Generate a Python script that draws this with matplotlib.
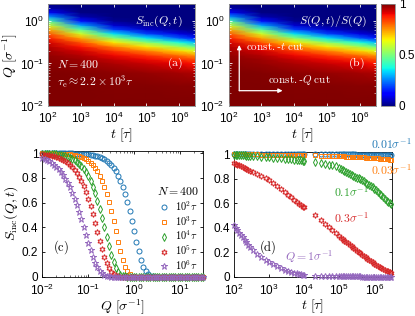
import numpy as np
import matplotlib
matplotlib.use('Agg')
import matplotlib.pyplot as plt
from matplotlib.ticker import LogLocator, NullFormatter
from matplotlib.font_manager import FontProperties

plt.rcParams['font.family'] = ['Liberation Sans', 'DejaVu Sans']
plt.rcParams['mathtext.fontset'] = 'custom'
plt.rcParams['mathtext.rm'] = 'Liberation Sans'
plt.rcParams['mathtext.it'] = 'Liberation Sans:italic'
plt.rcParams['mathtext.bf'] = 'Liberation Sans:bold'
plt.rcParams['xtick.direction'] = 'in'
plt.rcParams['ytick.direction'] = 'in'
plt.rcParams['xtick.top'] = True
plt.rcParams['ytick.right'] = True
plt.rcParams['axes.linewidth'] = 0.6
plt.rcParams['xtick.major.width'] = 0.6
plt.rcParams['ytick.major.width'] = 0.6
plt.rcParams['xtick.minor.width'] = 0.4
plt.rcParams['ytick.minor.width'] = 0.4
plt.rcParams['xtick.major.size'] = 2.5
plt.rcParams['ytick.major.size'] = 2.5
plt.rcParams['xtick.minor.size'] = 1.3
plt.rcParams['ytick.minor.size'] = 1.3
plt.rcParams['xtick.labelsize'] = 8.5
plt.rcParams['ytick.labelsize'] = 8.5
plt.rcParams['xtick.major.pad'] = 4.2
plt.rcParams['ytick.major.pad'] = 3.0

# ---------------- heat-map data (a), (b) ----------------
map_t = [1e2, 1e3, 1e4, 1e5, 1e6, 3e6]
map_q = [0.01, 0.03, 0.06, 0.1, 0.126, 0.158, 0.2, 0.25, 0.316, 0.4,
         0.5, 0.63, 0.79, 1.0, 1.26, 1.58, 2.0, 2.5]
map_sinc = [
    [1.0, 1.0, 1.0, 0.999, 0.999, 0.999],
    [0.999, 0.998, 0.996, 0.994, 0.991, 0.989],
    [0.997, 0.993, 0.985, 0.977, 0.966, 0.958],
    [0.992, 0.980, 0.959, 0.936, 0.907, 0.888],
    [0.987, 0.969, 0.936, 0.901, 0.856, 0.828],
    [0.980, 0.952, 0.901, 0.849, 0.784, 0.743],
    [0.968, 0.924, 0.847, 0.769, 0.677, 0.621],
    [0.951, 0.884, 0.771, 0.663, 0.543, 0.476],
    [0.922, 0.820, 0.660, 0.519, 0.377, 0.305],
    [0.878, 0.728, 0.514, 0.349, 0.210, 0.149],
    [0.817, 0.609, 0.353, 0.193, 0.087, 0.051],
    [0.724, 0.455, 0.191, 0.074, 0.021, 0.009],
    [0.603, 0.290, 0.074, 0.017, 0.002, 0.001],
    [0.444, 0.138, 0.016, 0.001, 0.0, 0.0],
    [0.276, 0.043, 0.001, 0.0, 0.0, 0.0],
    [0.132, 0.007, 0.0, 0.0, 0.0, 0.0],
    [0.039, 0.0, 0.0, 0.0, 0.0, 0.0],
    [0.006, 0.0, 0.0, 0.0, 0.0, 0.0],
]
map_ratio = map_sinc

# ---------------- panel (c): S_inc vs Q ----------------
q_c = [0.01, 0.0112, 0.0126, 0.0141, 0.0158, 0.0178, 0.02, 0.0224, 0.0251, 0.0282,
       0.0316, 0.0355, 0.0398, 0.0447, 0.0501, 0.0562, 0.0631, 0.0708, 0.0794, 0.0891,
       0.1, 0.112, 0.126, 0.141, 0.158, 0.178, 0.2, 0.224, 0.251, 0.282,
       0.316, 0.355, 0.398, 0.447, 0.501, 0.562, 0.631, 0.708, 0.794, 0.891,
       1.0, 1.12, 1.26, 1.41, 1.58, 1.78, 2.0, 2.24, 2.51, 2.82,
       3.16, 3.55, 3.98, 4.47, 5.01, 5.62, 6.31, 7.08, 7.94, 8.91,
       10.0, 11.2, 12.6, 14.1, 15.8, 17.8, 20.0, 22.4, 25.1, 28.2, 31.6]
s_c_1e2 = [1.0] * 9 + [0.999, 0.999, 0.999, 0.998, 0.998, 0.997, 0.997, 0.996, 0.995, 0.994,
                       0.992, 0.990, 0.988, 0.984, 0.980, 0.975, 0.969, 0.961, 0.951, 0.939,
                       0.924, 0.905, 0.882, 0.854, 0.819, 0.778, 0.729, 0.672, 0.606, 0.532,
                       0.452, 0.368, 0.284, 0.205, 0.136, 0.081, 0.042, 0.019, 0.007, 0.002] + [0.0] * 22
s_c_1e3 = [1.0] + [0.999, 0.999, 0.999, 0.998, 0.998, 0.997, 0.997, 0.996, 0.995, 0.994,
                   0.992, 0.990, 0.988, 0.984, 0.980, 0.975, 0.969, 0.961, 0.951, 0.939,
                   0.924, 0.905, 0.882, 0.854, 0.819, 0.778, 0.729, 0.672, 0.606, 0.532,
                   0.452, 0.368, 0.284, 0.205, 0.136, 0.081, 0.042, 0.019, 0.007, 0.002] + [0.0] * 30
s_c_1e4 = [0.997, 0.996, 0.996, 0.995, 0.993, 0.992, 0.990, 0.987, 0.984, 0.980,
           0.976, 0.970, 0.963, 0.954, 0.944, 0.931, 0.916, 0.897, 0.874, 0.846,
           0.813, 0.774, 0.729, 0.676, 0.616, 0.549, 0.476, 0.399, 0.321, 0.245,
           0.175, 0.116, 0.070, 0.037, 0.017, 0.006, 0.002, 0.001] + [0.0] * 33
s_c_1e5 = [0.991, 0.989, 0.986, 0.984, 0.980, 0.976, 0.971, 0.964, 0.957, 0.948,
           0.937, 0.924, 0.908, 0.889, 0.867, 0.840, 0.810, 0.773, 0.731, 0.684,
           0.630, 0.570, 0.505, 0.435, 0.364, 0.292, 0.224, 0.162, 0.109, 0.068,
           0.038, 0.019, 0.008, 0.003, 0.001] + [0.0] * 36
s_c_1e6 = [0.960, 0.953, 0.944, 0.934, 0.922, 0.908, 0.891, 0.872, 0.850, 0.824,
           0.795, 0.761, 0.723, 0.680, 0.633, 0.580, 0.524, 0.463, 0.401, 0.338,
           0.275, 0.215, 0.161, 0.114, 0.076, 0.047, 0.026, 0.013, 0.006, 0.002,
           0.001] + [0.0] * 40
c_labels = [r'$10^2\tau$', r'$10^3\tau$', r'$10^4\tau$', r'$10^5\tau$', r'$10^6\tau$']

# ---------------- panel (d): S_inc vs t ----------------
t_d = [100, 112, 125, 140, 158, 178, 200, 224, 251, 282,
       350, 450, 600, 800, 1000, 1300, 1700, 2200, 2800, 3500, 4300, 5200, 6200, 7200, 8200, 9100, 10000,
       20000, 30000, 40000, 50000, 63000, 79000,
       100000, 112000, 126000, 141000, 158000, 178000, 200000, 224000, 251000, 282000,
       316000, 355000, 398000, 447000, 501000, 562000, 631000, 708000, 794000, 891000,
       1000000, 1120000, 1260000, 1410000, 1580000, 1780000, 2000000, 2240000, 2510000, 2820000, 3000000]
s_d_q001 = [1.0] * 10 + [0.999] * 17 + [0.998] * 6 + [0.998] * 10 + [0.997] * 10 + [0.996] * 11
s_d_q003 = ([0.999] * 5 + [0.998] * 5 +
            [0.998, 0.998, 0.997, 0.997, 0.996, 0.996, 0.995, 0.995, 0.994, 0.994,
             0.993, 0.993, 0.993, 0.992, 0.992, 0.992, 0.992] +
            [0.990, 0.989, 0.988, 0.987, 0.986, 0.985] +
            [0.984, 0.983, 0.983, 0.982, 0.981, 0.981, 0.980, 0.979, 0.979, 0.978,
             0.977, 0.976, 0.976, 0.975, 0.974, 0.973, 0.972, 0.971, 0.970, 0.969,
             0.968, 0.967, 0.966, 0.965, 0.964, 0.963, 0.962, 0.960, 0.959, 0.957, 0.956])
s_d_q01 = ([0.995, 0.994, 0.993, 0.993, 0.992, 0.991, 0.990, 0.989, 0.988, 0.987] +
           [0.985, 0.983, 0.980, 0.977, 0.975, 0.972, 0.969, 0.966, 0.963, 0.960,
            0.958, 0.955, 0.953, 0.951, 0.949, 0.947, 0.946] +
           [0.935, 0.928, 0.922, 0.916, 0.910, 0.900] +
           [0.888, 0.881, 0.874, 0.866, 0.858, 0.850, 0.842, 0.834, 0.826, 0.818,
            0.810, 0.802, 0.794, 0.786, 0.778, 0.769, 0.760, 0.750, 0.740, 0.729,
            0.718, 0.705, 0.692, 0.678, 0.664, 0.650, 0.636, 0.622, 0.610, 0.598, 0.592])
s_d_q03 = ([0.926, 0.921, 0.915, 0.909, 0.902, 0.895, 0.888, 0.881, 0.874, 0.867] +
           [0.855, 0.840, 0.822, 0.804, 0.790, 0.767, 0.742, 0.716, 0.692, 0.668,
            0.648, 0.628, 0.610, 0.596, 0.583, 0.573, 0.565] +
           [0.500, 0.460, 0.430, 0.405, 0.380, 0.355] +
           [0.330, 0.318, 0.306, 0.294, 0.283, 0.271, 0.260, 0.248, 0.236, 0.224,
            0.212, 0.201, 0.190, 0.179, 0.168, 0.157, 0.146, 0.136, 0.126, 0.116,
            0.107, 0.098, 0.089, 0.080, 0.072, 0.064, 0.056, 0.049, 0.042, 0.036, 0.033])
s_d_q1 = ([0.42, 0.40, 0.38, 0.36, 0.34, 0.32, 0.30, 0.28, 0.26, 0.245] +
          [0.215, 0.185, 0.16, 0.135, 0.12, 0.10, 0.085, 0.07, 0.058, 0.048,
           0.04, 0.033, 0.027, 0.023, 0.019, 0.017, 0.015] +
          [0.008, 0.006, 0.005, 0.004, 0.004, 0.003] +
          [0.003] * 3 + [0.002] * 10 + [0.001] * 18)
d_labels = [r'$0.01\sigma^{-1}$', r'$0.03\sigma^{-1}$', r'$0.1\sigma^{-1}$',
            r'$0.3\sigma^{-1}$', r'$Q=1\sigma^{-1}$']

colors = ['#1f77b4', '#ff7f0e', '#2ca02c', '#d62728', '#9467bd']
hexagram = (6, 1, 0)
markers = ['o', 's', 'd', hexagram, '*']
msizes = [3.6, 3.2, 3.6, 4.2, 4.6]

CM = 'cm'

fig = plt.figure(figsize=(4.15, 3.16), dpi=100)
ax_a = fig.add_axes([0.1157, 0.6646, 0.354, 0.3228])
ax_b = fig.add_axes([0.551, 0.6646, 0.354, 0.3228])
cax = fig.add_axes([0.918, 0.6646, 0.033, 0.3228])
ax_c = fig.add_axes([0.1024, 0.1234, 0.3867, 0.4003])
ax_d = fig.add_axes([0.5639, 0.1234, 0.3807, 0.397])

T, Qm = np.meshgrid(np.array(map_t), np.array(map_q))
for ax, data in ((ax_a, map_sinc), (ax_b, map_ratio)):
    mesh = ax.pcolormesh(T, Qm, np.array(data), shading='gouraud', cmap='jet',
                         vmin=0, vmax=1, rasterized=True)
    ax.set_xscale('log')
    ax.set_yscale('log')
    ax.set_xlim(1e2, 3e6)
    ax.set_ylim(1e-2, 2.5)
    ax.set_xticks([1e2, 1e3, 1e4, 1e5, 1e6])
    ax.set_yticks([1e-2, 1e-1, 1e0])
    ax.xaxis.set_minor_locator(LogLocator(subs=np.arange(2, 10)))
    ax.xaxis.set_minor_formatter(NullFormatter())
    ax.yaxis.set_minor_locator(LogLocator(subs=np.arange(2, 10)))
    ax.yaxis.set_minor_formatter(NullFormatter())
    ax.tick_params(which='both', color='white')
    ax.tick_params(axis='x', pad=3.8)
    ax.set_xlabel(r'$t\ [\tau]$', fontsize=10, math_fontfamily=CM)
    ax.xaxis.set_label_coords(0.5, -0.2)
    for s in ax.spines.values():
        s.set_color('#888888')

ax_a.set_ylabel(r'$Q\ [\sigma^{-1}]$', fontsize=10, math_fontfamily=CM)
ax_a.yaxis.set_label_coords(-0.19, 0.5)

cb = fig.colorbar(mesh, cax=cax, ticks=[0, 0.5, 1])
cb.ax.set_yticklabels(['0', '0.5', '1'])
cb.ax.tick_params(direction='in', length=0, labelsize=8.5, pad=3)
cb.outline.set_linewidth(0.6)
cb.outline.set_edgecolor('#888888')

# panel (a) annotations
ax_a.text(0.918, 0.826, r'$S_{\rm inc}(Q,t)$', transform=ax_a.transAxes, color='white',
          fontsize=8.5, math_fontfamily=CM, ha='right', va='center')
ax_a.text(0.864, 0.419, r'$\rm (a)$', transform=ax_a.transAxes, color='white',
          fontsize=8.5, math_fontfamily=CM, ha='center', va='center')
ax_a.text(0.061, 0.402, r'$N=400$', transform=ax_a.transAxes, color='white',
          fontsize=8.5, math_fontfamily=CM, ha='left', va='center')
ax_a.text(0.061, 0.238, r'$\tau_{\rm e}\approx 2.2\times 10^3\tau$', transform=ax_a.transAxes,
          color='white', fontsize=8.5, math_fontfamily=CM, ha='left', va='center')

# panel (b) annotations
ax_b.text(0.939, 0.826, r'$S(Q,t)/S(Q)$', transform=ax_b.transAxes, color='white',
          fontsize=8.5, math_fontfamily=CM, ha='right', va='center')
ax_b.text(0.868, 0.419, r'$\rm (b)$', transform=ax_b.transAxes, color='white',
          fontsize=8.5, math_fontfamily=CM, ha='center', va='center')
ax_b.annotate('', xy=(0.072, 0.598), xytext=(0.072, 0.15), xycoords='axes fraction',
              arrowprops=dict(arrowstyle='-|>', color='white', lw=0.9, mutation_scale=6,
                              shrinkA=0, shrinkB=0))
ax_b.annotate('', xy=(0.367, 0.15), xytext=(0.072, 0.15), xycoords='axes fraction',
              arrowprops=dict(arrowstyle='-|>', color='white', lw=0.9, mutation_scale=6,
                              shrinkA=0, shrinkB=0))
ax_b.text(0.118, 0.581, r'$\rm const.$-$t$ $\rm cut$', transform=ax_b.transAxes, color='white',
          fontsize=8, math_fontfamily=CM, ha='left', va='center')
ax_b.text(0.267, 0.255, r'$\rm const.$-$Q$ $\rm cut$', transform=ax_b.transAxes, color='white',
          fontsize=8, math_fontfamily=CM, ha='left', va='center')

# panel (c)
c_series = [s_c_1e2, s_c_1e3, s_c_1e4, s_c_1e5, s_c_1e6]
for i, ys in enumerate(c_series):
    ax_c.plot(q_c, ys, linestyle='none', marker=markers[i], ms=msizes[i],
              mfc='none', mec=colors[i], mew=0.7, label=c_labels[i], clip_on=False,
              zorder=3 + i)
ax_c.set_xscale('log')
ax_c.set_xlim(1e-2, 31.6)
ax_c.set_ylim(-0.003, 1.022)
ax_c.set_xticks([1e-2, 1e-1, 1e0, 1e1])
ax_c.xaxis.set_minor_locator(LogLocator(subs=np.arange(2, 10)))
ax_c.xaxis.set_minor_formatter(NullFormatter())
ax_c.set_yticks([0, 0.2, 0.4, 0.6, 0.8, 1.0], labels=['0', '0.2', '0.4', '0.6', '0.8', '1'])
ax_c.set_xlabel(r'$Q\ [\sigma^{-1}]$', fontsize=10, math_fontfamily=CM)
ax_c.xaxis.set_label_coords(0.5, -0.165)
ax_c.set_ylabel(r'$S_{\rm inc}(Q,t)$', fontsize=10, math_fontfamily=CM)
ax_c.yaxis.set_label_coords(-0.14, 0.5)
ax_c.text(0.113, 0.24, r'$\rm (c)$', transform=ax_c.transAxes, fontsize=9,
          math_fontfamily=CM, ha='center', va='center')
leg = ax_c.legend(loc='center left', bbox_to_anchor=(0.67, 0.38), frameon=False,
                  prop=FontProperties(size=7.5, math_fontfamily=CM), numpoints=1,
                  handlelength=1.0, handletextpad=0.5, labelspacing=0.12, borderpad=0.2,
                  title=r'$N=400$',
                  title_fontproperties=FontProperties(size=8.5, math_fontfamily=CM))

# panel (d)
d_series = [s_d_q001, s_d_q003, s_d_q01, s_d_q03, s_d_q1]
for i, ys in enumerate(d_series):
    ax_d.plot(t_d, ys, linestyle='none', marker=markers[i], ms=msizes[i],
              mfc='none', mec=colors[i], mew=0.7, clip_on=False, zorder=3 + i)
ax_d.set_xscale('log')
ax_d.set_xlim(1e2, 3.2e6)
ax_d.set_ylim(-0.003, 1.022)
ax_d.set_xticks([1e2, 1e3, 1e4, 1e5, 1e6])
ax_d.xaxis.set_minor_locator(LogLocator(subs=np.arange(2, 10)))
ax_d.xaxis.set_minor_formatter(NullFormatter())
ax_d.set_yticks([0, 0.2, 0.4, 0.6, 0.8, 1.0], labels=['0', '0.2', '0.4', '0.6', '0.8', '1'])
ax_d.set_xlabel(r'$t\ [\tau]$', fontsize=10, math_fontfamily=CM)
ax_d.xaxis.set_label_coords(0.5, -0.165)
ax_d.text(0.215, 0.241, r'$\rm (d)$', transform=ax_d.transAxes, fontsize=9,
          math_fontfamily=CM, ha='center', va='center')
label_pos = [(0.867, 1.057), (0.867, 0.853), (0.633, 0.68), (0.633, 0.473), (0.323, 0.162)]
for i, (lx, ly) in enumerate(label_pos):
    ax_d.text(lx, ly, d_labels[i], transform=ax_d.transAxes, color=colors[i], fontsize=8.5,
              math_fontfamily=CM, ha='left', va='center', clip_on=False)

fig.savefig('out.png', dpi=100)
